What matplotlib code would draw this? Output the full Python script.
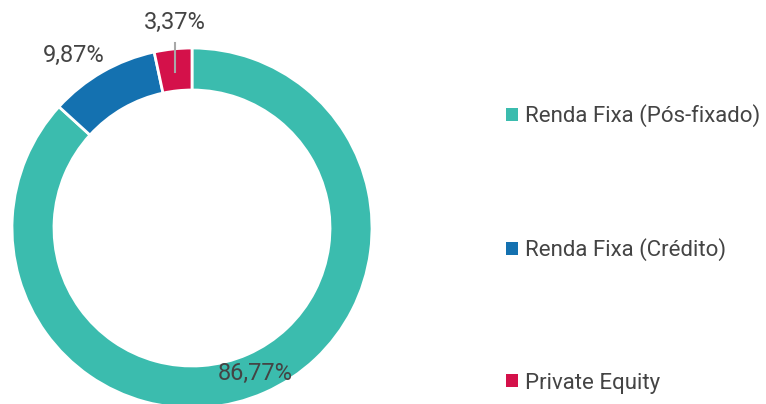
import matplotlib.pyplot as plt
from matplotlib.patches import Patch

plt.rcParams['font.family'] = ['Roboto', 'DejaVu Sans']

labels = ['Renda Fixa (Pós-fixado)', 'Renda Fixa (Crédito)', 'Private Equity']
values = [86.77, 9.87, 3.37]
pct_text = ['86,77%', '9,87%', '3,37%']
colors = ['#3bbcae', '#1471b0', '#d4114a']
txt = '#444444'

fig = plt.figure(figsize=(7.66, 4.04), dpi=100)
ax = fig.add_axes([0, 0, 1, 1])

cx, cy, r = 192, 176, 180
wedges, _ = ax.pie(values, colors=colors, startangle=90, counterclock=False,
                   center=(cx, cy), radius=r, frame=True,
                   wedgeprops=dict(width=42, edgecolor='white', linewidth=2))
ax.set_xlim(0, 766)
ax.set_ylim(0, 404)
ax.set_aspect('equal')
ax.axis('off')

# percentage labels
ax.text(255, 404 - 373, pct_text[0], ha='center', va='center', fontsize=17, color=txt)
ax.text(74, 404 - 55, pct_text[1], ha='center', va='center', fontsize=17, color=txt)
ax.text(175, 404 - 22, pct_text[2], ha='center', va='center', fontsize=17, color=txt)
ax.plot([175, 175], [404 - 43, 404 - 72], color='#a8a8a8', lw=1.5)

handles = [Patch(facecolor=c, edgecolor='none') for c in colors]
leg = ax.legend(handles, labels, loc='center left', bbox_to_anchor=(506 / 766, 155 / 404),
                frameon=False, fontsize=16, labelcolor=txt, handlelength=0.55,
                handleheight=0.55, handletextpad=0.3, labelspacing=5.0,
                borderpad=0, borderaxespad=0)

fig.savefig('out.png', dpi=100)
